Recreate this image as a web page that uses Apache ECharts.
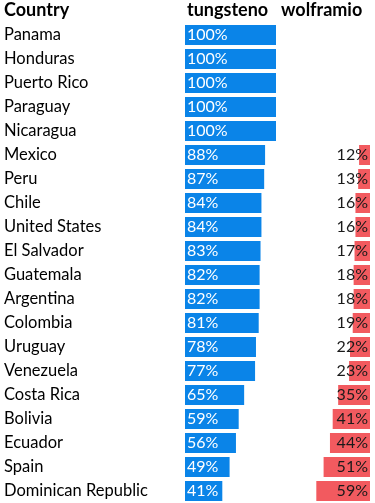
<!DOCTYPE html>
<html><head><meta charset="utf-8">
<script src="https://cdn.jsdelivr.net/npm/echarts@6/dist/echarts.min.js"></script>
<style>html,body{margin:0;padding:0;background:#fff}#c{width:375px;height:503px}</style>
</head><body><div id="c"></div>
<script>
const countries = ["Panama","Honduras","Puerto Rico","Paraguay","Nicaragua","Mexico","Peru","Chile","United States","El Salvador","Guatemala","Argentina","Colombia","Uruguay","Venezuela","Costa Rica","Bolivia","Ecuador","Spain","Dominican Republic"];
const tungsteno = [100,100,100,100,100,88,87,84,84,83,82,82,81,78,77,65,59,56,49,41];
const wolframio = [0,0,0,0,0,12,13,16,16,17,18,18,19,22,23,35,41,44,51,59];
const headers = ["Country","tungsteno","wolframio"];

const FONT = "Lato, 'Open Sans', sans-serif";
const chart = echarts.init(document.getElementById('c'), null, {renderer:'canvas'});
const hidden = {show:false};
chart.setOption({
  animation:false,
  graphic:[
    {type:'text', left:4, top:1, style:{text:headers[0], font:"bold 18px "+FONT, fill:'#000'}},
    {type:'text', left:187, top:1, style:{text:headers[1], font:"bold 18px "+FONT, fill:'#000'}},
    {type:'text', left:281, top:1, style:{text:headers[2], font:"bold 18px "+FONT, fill:'#000'}}
  ],
  grid:[
    {left:185, width:91, top:23, height:480},
    {left:279, width:91, top:23, height:480}
  ],
  xAxis:[
    {gridIndex:0, type:'value', min:0, max:100, axisLine:hidden, axisTick:hidden, axisLabel:hidden, splitLine:hidden},
    {gridIndex:1, type:'value', min:0, max:100, inverse:true, axisLine:hidden, axisTick:hidden, axisLabel:hidden, splitLine:hidden}
  ],
  yAxis:[
    {gridIndex:0, type:'category', data:countries, inverse:true, axisLine:hidden, axisTick:hidden, splitLine:hidden,
     axisLabel:{show:true, align:'left', margin:181, fontFamily:FONT, fontSize:16.5, color:'#000'}},
    {gridIndex:1, type:'category', data:countries, inverse:true, axisLine:hidden, axisTick:hidden, axisLabel:hidden, splitLine:hidden}
  ],
  series:[
    {type:'bar', xAxisIndex:0, yAxisIndex:0, data:tungsteno, barWidth:20, itemStyle:{color:'#0a84e8'},
     label:{show:true, position:'insideLeft', distance:2, formatter:'{c}%', color:'#fff', fontFamily:FONT, fontSize:16}},
    {type:'bar', xAxisIndex:1, yAxisIndex:1, data:wolframio.map(v=>v===0?null:v), barWidth:20, itemStyle:{color:'#f25a5f'},
     label:{show:true, position:'insideRight', distance:2, formatter:'{c}%', color:'#1a1a1a', fontFamily:FONT, fontSize:16}}
  ]
});
</script></body></html>
